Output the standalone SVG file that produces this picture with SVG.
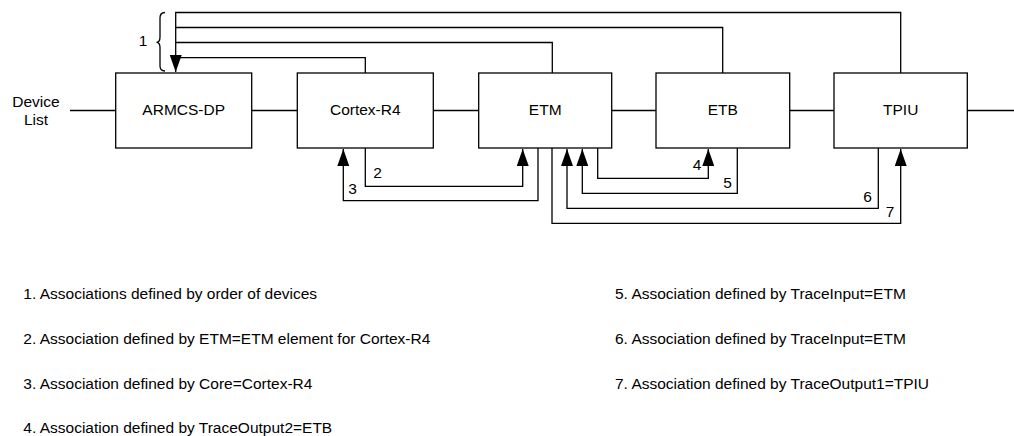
<svg xmlns="http://www.w3.org/2000/svg" width="1014" height="436" viewBox="0 0 1014 436">
<defs>
<style>
.box{fill:#fff;stroke:#000;stroke-width:1.3}
.ln{fill:none;stroke:#000;stroke-width:1.3}
.t{font-family:"Liberation Sans",Arial,sans-serif;font-size:15.5px;fill:#000}
.c{text-anchor:middle}
</style>
<marker id="ah" markerUnits="userSpaceOnUse" viewBox="0 0 17 12" refX="17" refY="6" markerWidth="17" markerHeight="12" orient="auto">
<path d="M0,0 L17,6 L0,12 Z" fill="#000"/>
</marker>
</defs>
<rect width="1014" height="436" fill="#fff"/>
<g id="connectors">
<path class="ln" d="M70,110.5 H116 M252,110.5 H297 M433,110.5 H479 M612,110.5 H656 M790,110.5 H834 M967,110.5 H1014"/>
<path class="ln" d="M900.7,73 V12.5 H175.7 V72" marker-end="url(#ah)"/>
<path class="ln" d="M722.7,73 V27.5 H175.7"/>
<path class="ln" d="M552.3,73 V42.5 H175.7"/>
<path class="ln" d="M365.3,73 V57.7 H175.7"/>
<path class="ln" d="M365.3,148 V186.3 H522.7 V149" marker-end="url(#ah)"/>
<path class="ln" d="M538,148 V200.7 H343.3 V149" marker-end="url(#ah)"/>
<path class="ln" d="M597.7,148 V178.3 H708.3 V149" marker-end="url(#ah)"/>
<path class="ln" d="M737.3,148 V193.3 H582.3 V149" marker-end="url(#ah)"/>
<path class="ln" d="M878.3,148 V208.3 H567 V149" marker-end="url(#ah)"/>
<path class="ln" d="M552,148 V223.3 H900.7 V149" marker-end="url(#ah)"/>
<path class="ln" d="M165,12.5 Q160,12.5 160,18 V37 Q160,42.3 156.5,42.3 Q160,42.3 160,47.5 V66 Q160,71 165,71"/>
<text class="t c" x="143" y="46">1</text>
<text class="t c" x="377.5" y="177.5">2</text>
<text class="t c" x="352.5" y="194">3</text>
<text class="t c" x="697" y="170">4</text>
<text class="t c" x="727.5" y="187.7">5</text>
<text class="t c" x="867.5" y="201.7">6</text>
<text class="t c" x="890" y="216.7">7</text>
</g>
<g id="device-list">
<text class="t c" x="36" y="106.5">Device</text>
<text class="t c" x="36" y="124.5">List</text>
</g>
<g id="armcs-dp">
<rect class="box" x="115.7" y="73" width="136" height="75"/>
<text class="t c" x="183.7" y="115">ARMCS-DP</text>
</g>
<g id="cortex-r4">
<rect class="box" x="297.3" y="73" width="136" height="75"/>
<text class="t c" x="365.3" y="115">Cortex-R4</text>
</g>
<g id="etm">
<rect class="box" x="478.7" y="73" width="133" height="75"/>
<text class="t c" x="545.2" y="115">ETM</text>
</g>
<g id="etb">
<rect class="box" x="656" y="73" width="133.7" height="75"/>
<text class="t c" x="722.8" y="115">ETB</text>
</g>
<g id="tpiu">
<rect class="box" x="834" y="73" width="133.3" height="75"/>
<text class="t c" x="900.7" y="115">TPIU</text>
</g>
<g id="legend">
<text class="t" x="23.3" y="299">1. Associations defined by order of devices</text>
<text class="t" x="23.3" y="344">2. Association defined by ETM=ETM element for Cortex-R4</text>
<text class="t" x="23.3" y="389">3. Association defined by Core=Cortex-R4</text>
<text class="t" x="23.3" y="433">4. Association defined by TraceOutput2=ETB</text>
<text class="t" x="615" y="299">5. Association defined by TraceInput=ETM</text>
<text class="t" x="615" y="344">6. Association defined by TraceInput=ETM</text>
<text class="t" x="615" y="389">7. Association defined by TraceOutput1=TPIU</text>
</g>
</svg>
